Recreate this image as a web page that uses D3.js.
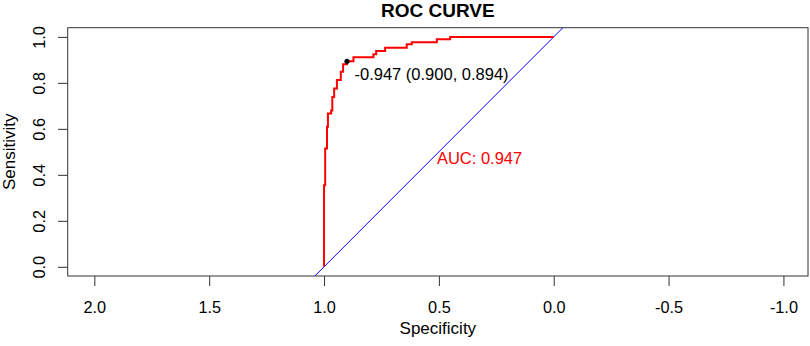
<!DOCTYPE html>
<html>
<head>
<meta charset="utf-8">
<script src="https://cdn.jsdelivr.net/npm/d3@7"></script>
<style>
  html, body { margin: 0; padding: 0; background: #fff; }
  svg { display: block; font-family: "Liberation Sans", Arial, sans-serif; }
</style>
</head>
<body>
<svg id="chart" width="810" height="346"></svg>
<script>
// ---- data ----
const specificity = [1.000,1.000,0.995,0.995,0.987,0.987,0.983,0.983,0.969,0.969,0.964,0.964,0.956,0.956,0.944,0.944,0.927,0.927,0.917,0.917,0.900,0.900,0.872,0.872,0.785,0.785,0.773,0.773,0.734,0.734,0.640,0.640,0.618,0.618,0.509,0.509,0.451,0.451,0.000];
const sensitivity = [0.000,0.355,0.355,0.515,0.515,0.609,0.609,0.667,0.667,0.680,0.680,0.739,0.739,0.776,0.776,0.812,0.812,0.848,0.848,0.881,0.881,0.894,0.894,0.912,0.912,0.925,0.925,0.939,0.939,0.953,0.953,0.968,0.968,0.977,0.977,0.990,0.990,1.000,1.000];
const xTicks = [2.0, 1.5, 1.0, 0.5, 0.0, -0.5, -1.0];
const yTicks = [0.0, 0.2, 0.4, 0.6, 0.8, 1.0];
const bestThreshold = -0.947, bestSpec = 0.900, bestSens = 0.894;
const aucValue = 0.947;
const xLimits = [2.116, -1.107];
const yLimits = [-0.04, 1.04];

// ---- layout ----
const svg = d3.select("#chart");
const L = 67.7, R = 808, T = 27.7, B = 276;
const x = d3.scaleLinear().domain(xLimits).range([L, R]);
const y = d3.scaleLinear().domain(yLimits).range([B, T]);
const fmt = d => d.toFixed(1);

svg.append("rect").attr("width", 810).attr("height", 346).attr("fill", "#fff");

svg.append("defs").append("clipPath").attr("id", "plotclip")
  .append("rect").attr("x", L).attr("y", T).attr("width", R - L).attr("height", B - T);

// x axis
const gx = svg.append("g").attr("transform", `translate(0,${B})`)
  .call(d3.axisBottom(x).tickValues(xTicks).tickFormat(fmt).tickSize(10).tickSizeOuter(0));
gx.select(".domain").remove();
gx.selectAll(".tick line").attr("stroke", "#333").attr("stroke-width", 1);
gx.selectAll(".tick text").attr("y", 36.7).attr("dy", null)
  .attr("font-size", 16.3).attr("fill", "#000").attr("font-family", "Liberation Sans, Arial, sans-serif");

// y axis
const gy = svg.append("g").attr("transform", `translate(${L},0)`)
  .call(d3.axisLeft(y).tickValues(yTicks).tickFormat(fmt).tickSize(9.7).tickSizeOuter(0));
gy.select(".domain").remove();
gy.selectAll(".tick line").attr("stroke", "#333").attr("stroke-width", 1);
gy.selectAll(".tick text")
  .attr("x", null).attr("dy", null)
  .attr("transform", "translate(-22.7,0) rotate(-90)")
  .attr("text-anchor", "middle")
  .attr("font-size", 16.3).attr("fill", "#000").attr("font-family", "Liberation Sans, Arial, sans-serif");

// box
svg.append("rect").attr("x", L).attr("y", T).attr("width", R - L).attr("height", B - T)
  .attr("fill", "none").attr("stroke", "#333").attr("stroke-width", 1);

const plot = svg.append("g").attr("clip-path", "url(#plotclip)");

// diagonal reference line (sens = 1 - spec) across the plot area
const diag = [[1 - yLimits[0], yLimits[0]], [1 - yLimits[1], yLimits[1]]];
plot.append("line")
  .attr("x1", x(diag[0][0])).attr("y1", y(diag[0][1]))
  .attr("x2", x(diag[1][0])).attr("y2", y(diag[1][1]))
  .attr("stroke", "#0000ff").attr("stroke-width", 1);

// ROC curve
const pts = specificity.map((s, i) => [s, sensitivity[i]]);
plot.append("path")
  .datum(pts)
  .attr("d", d3.line().x(d => x(d[0])).y(d => y(d[1])))
  .attr("fill", "none").attr("stroke", "#ff0000").attr("stroke-width", 2);

// best threshold point + label
svg.append("circle").attr("cx", x(bestSpec)).attr("cy", y(bestSens)).attr("r", 2.6).attr("fill", "#000");
svg.append("text")
  .attr("x", x(bestSpec) + 7.5).attr("y", y(bestSens) + 18.3)
  .attr("font-size", 16.5).attr("fill", "#000")
  .text(`${bestThreshold.toFixed(3)} (${bestSpec.toFixed(3)}, ${bestSens.toFixed(3)})`);

// AUC text
svg.append("text")
  .attr("x", x(0.5) - 2).attr("y", y(0.5) + 12.3)
  .attr("font-size", 16.5).attr("fill", "#ff0000")
  .text(`AUC: ${aucValue.toFixed(3)}`);

// titles
svg.append("text").attr("x", (L + R) / 2).attr("y", 16.5).attr("text-anchor", "middle")
  .attr("font-size", 19).attr("font-weight", "bold").attr("fill", "#000").text("ROC CURVE");
svg.append("text").attr("x", (L + R) / 2).attr("y", 334).attr("text-anchor", "middle")
  .attr("font-size", 17).attr("fill", "#000").text("Specificity");
svg.append("text").attr("transform", `translate(15,${(T + B) / 2}) rotate(-90)`).attr("text-anchor", "middle")
  .attr("font-size", 17).attr("fill", "#000").text("Sensitivity");
</script>
</body>
</html>
